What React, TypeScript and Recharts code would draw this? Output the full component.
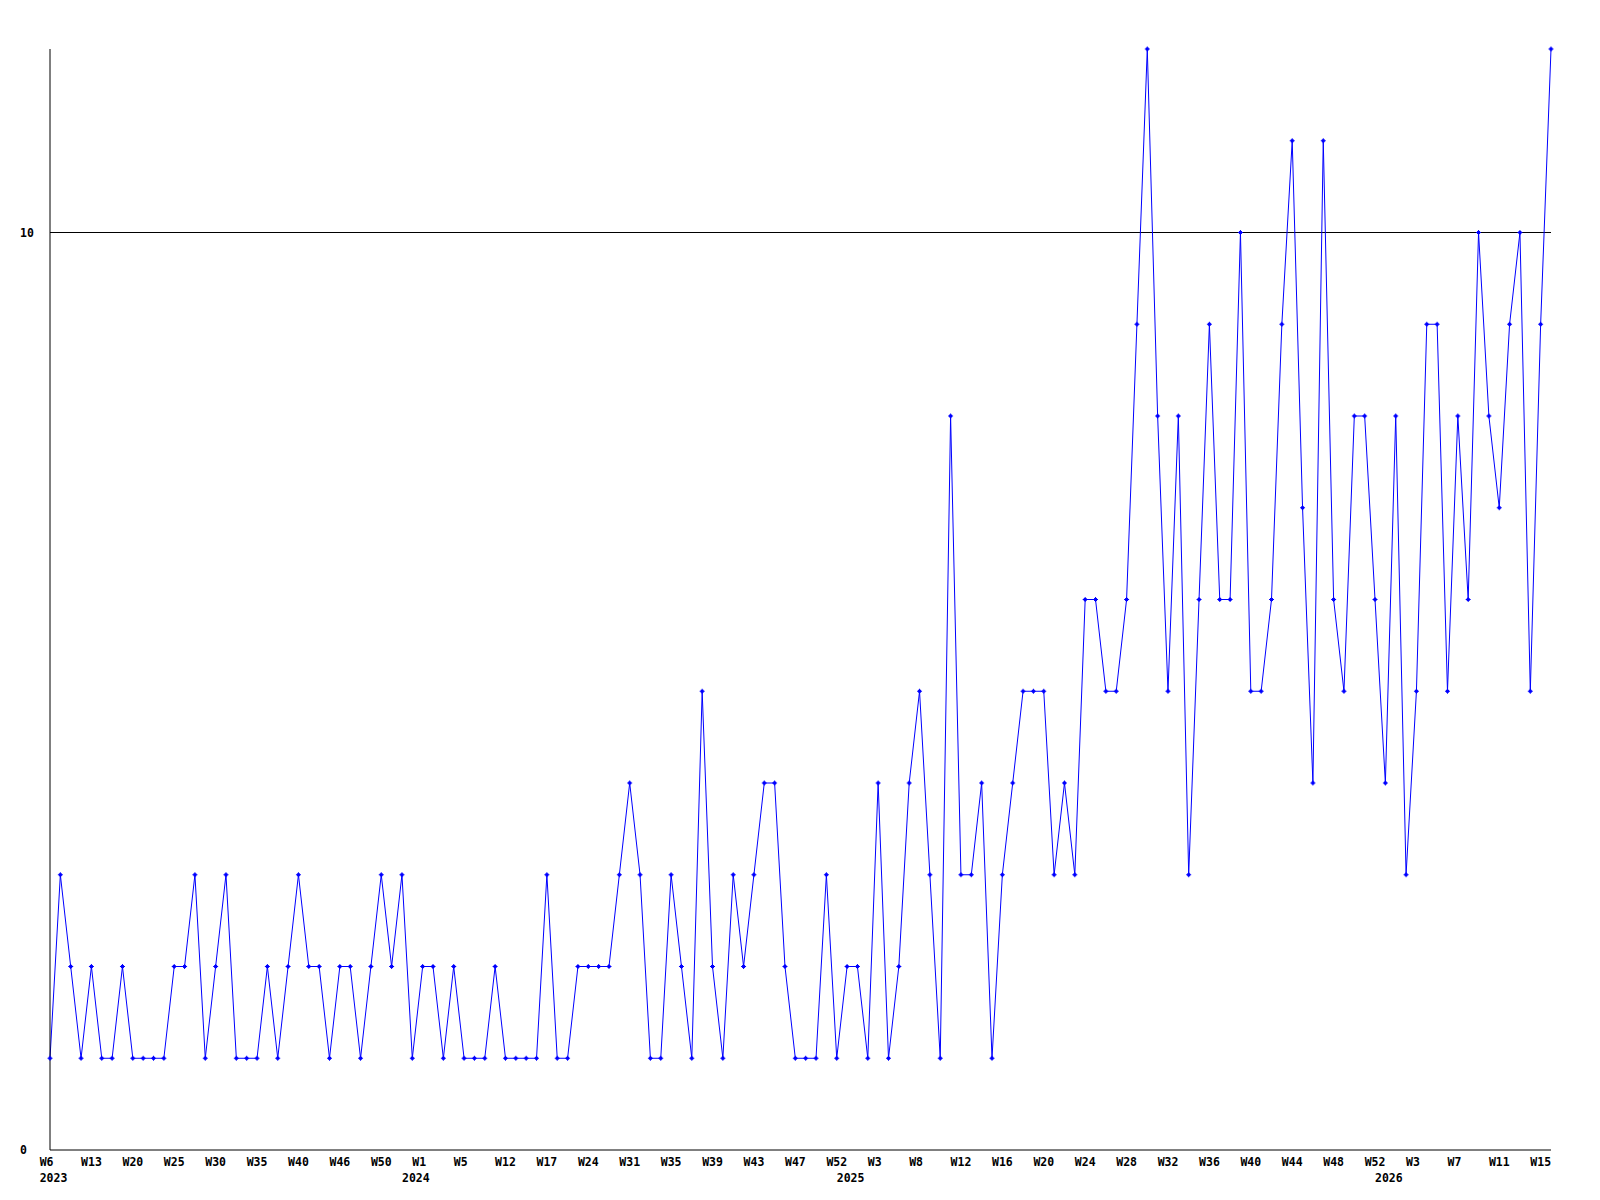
import { Line, LineChart, ReferenceLine, XAxis, YAxis } from "recharts"

// weekly counts, one entry per plotted week
const values = [
  1, 3, 2, 1, 2, 1, 1, 2, 1, 1, 1, 1, 2, 2, 3, 1, 2, 3, 1, 1, 1, 2, 1, 2, 3, 2, 2, 1, 2, 2, 1, 2, 3, 2, 3, 1, 2,
  2, 1, 2, 1, 1, 1, 2, 1, 1, 1, 1, 3, 1, 1, 2, 2, 2, 2, 3, 4, 3, 1, 1, 3, 2, 1, 5, 2, 1, 3, 2, 3, 4, 4, 2, 1,
  1, 1, 3, 1, 2, 2, 1, 4, 1, 2, 4, 5, 3, 1, 8, 3, 3, 4, 1, 3, 4, 5, 5, 5, 3, 4, 3, 6, 6, 5, 5, 6, 9, 12, 8, 5, 8,
  3, 6, 9, 6, 6, 10, 5, 5, 6, 9, 11, 7, 4, 11,
  6, 5, 8, 8, 6, 4, 8, 3, 5, 9, 9, 5, 8, 6, 10, 8, 7, 9, 10, 5, 9, 12,
]

// one week label every 4 points
const weekLabels = [
  "W6", "W13", "W20", "W25", "W30", "W35", "W40", "W46", "W50", "W1", "W5", "W12", "W17",
  "W24", "W31", "W35", "W39", "W43", "W47", "W52", "W3", "W8", "W12", "W16", "W20", "W24",
  "W28", "W32", "W36", "W40", "W44", "W48", "W52", "W3", "W7", "W11", "W15",
]

const years = ["2023", "2024", "2025", "2026"]
const yearAt = [0, 35, 77, 129]

const yTicks = [0, 10]

const data = values.map((v, i) => ({ i, v }))

const W = 1600
const H = 1200
const LEFT = 50
const RIGHT = 49
const STEP = (W - LEFT - RIGHT) / (values.length - 1)

const font = { fontFamily: "'DejaVu Sans Mono', monospace", fontWeight: "bold", fontSize: 11.5, fill: "#000" }

const weekTicks = weekLabels.map((_, k) => k * 4)
const allTicks = Array.from(new Set([...weekTicks, ...yearAt])).sort((a, b) => a - b)

function XTick(props: any) {
  const { x, y, payload } = props
  const i = payload.value
  const week = i % 4 === 0 ? weekLabels[i / 4] : null
  const yi = yearAt.indexOf(i)
  return (
    <g>
      {week && (
        <text x={x - STEP} y={y + 16} textAnchor="start" {...font}>
          {week}
        </text>
      )}
      {yi >= 0 && (
        <text x={x - STEP} y={y + 32} textAnchor="start" {...font}>
          {years[yi]}
        </text>
      )}
    </g>
  )
}

function YTick(props: any) {
  const { y, payload } = props
  return (
    <text x={20} y={y + 4} textAnchor="start" {...font}>
      {payload.value}
    </text>
  )
}

function Mark(props: any) {
  const { cx, cy, index } = props
  if (cx == null || cy == null) return <g key={index} />
  return (
    <path
      key={index}
      d={`M${cx - 2.5} ${cy - 0.5}h5v1h-5z M${cx - 0.5} ${cy - 2.5}h1v5h-1z M${cx - 1.5} ${cy - 1.5}h3v3h-3z`}
      fill="#0000ff"
    />
  )
}

export default function App() {
  return (
    <div style={{ position: "absolute", left: 0, top: 0, width: W, height: H, background: "#fff" }}>
      <LineChart width={W} height={H} data={data} margin={{ top: 49, right: RIGHT, bottom: 0, left: 0 }}>
        <XAxis
          dataKey="i"
          type="number"
          domain={[0, values.length - 1]}
          ticks={allTicks}
          interval={0}
          height={50}
          tickLine={false}
          tickSize={0}
          tickMargin={0}
          axisLine={{ stroke: "#000", strokeWidth: 1 }}
          tick={<XTick />}
        />
        <YAxis
          domain={[0, 12]}
          ticks={yTicks}
          width={LEFT}
          tickLine={false}
          tickSize={0}
          axisLine={{ stroke: "#000", strokeWidth: 1 }}
          tick={<YTick />}
        />
        <ReferenceLine y={10} stroke="#000" strokeWidth={1} />
        <Line
          type="linear"
          dataKey="v"
          stroke="#0000ff"
          strokeWidth={1}
          dot={<Mark />}
          activeDot={false}
          isAnimationActive={false}
        />
      </LineChart>
    </div>
  )
}
